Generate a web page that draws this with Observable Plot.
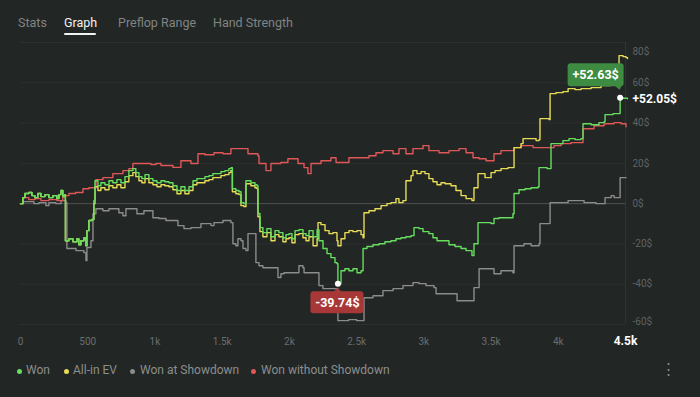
<!DOCTYPE html>
<html>
<head>
<meta charset="utf-8">
<script src="https://cdn.jsdelivr.net/npm/d3@7"></script>
<script src="https://cdn.jsdelivr.net/npm/@observablehq/plot@0.6"></script>
<style>
html,body{margin:0;padding:0;background:#222625;width:700px;height:397px;overflow:hidden;font-family:Roboto,"Open Sans",sans-serif;}
#tabs{position:relative;height:40px;}
.tab{position:absolute;top:15px;font-size:12.5px;color:#808483;white-space:nowrap;line-height:15px;}
.tab.active{color:#f2f2f2;}
#underline{position:absolute;left:64px;top:33px;width:32px;height:2px;background:#f2f2f2;border-radius:1px;}
#chart{height:315px;}
#chart svg{display:block;}
#legend{position:relative;height:42px;}
.lg{position:absolute;top:8px;font-size:12px;line-height:15px;color:#8b8f8e;white-space:nowrap;}
.dot{position:absolute;top:13.5px;width:5px;height:5px;border-radius:50%;}
#kebab{position:absolute;left:661px;top:5px;font-size:15px;color:#8b8f8e;}
</style>
</head>
<body>
<div id="tabs">
  <div class="tab" style="left:18px">Stats</div>
  <div class="tab active" style="left:64px">Graph</div>
  <div class="tab" style="left:118px">Preflop Range</div>
  <div class="tab" style="left:213px">Hand Strength</div>
  <div id="underline"></div>
</div>
<div id="chart"></div>
<div id="legend"></div>
<script>
// ---- data: [hand number, cumulative $] ----
const seriesNames = ["Won", "All-in EV", "Won at Showdown", "Won without Showdown"];
const seriesColors = ["#66df5f", "#e6dc55", "#8c8c8c", "#e05757"];

const won = [[0,0],[18,3.0],[33,5.0],[62,5.5],[85,4.0],[107,3.0],[129,5.0],[152,3.5],[182,4.5],[211,3.0],[241,4.0],[271,2.5],[286,4.5],[301,6.5],[315,3.5],[330,4.5],[334,-18.4],[360,-17.4],[390,-18.9],[420,-17.4],[434,-20.4],[449,-18.4],[472,-16.9],[487,-20.9],[494,-13.4],[509,-8.4],[531,-7.9],[546,1.5],[554,11.4],[576,8.9],[598,10.4],[628,9.4],[658,11.4],[687,10.4],[717,11.9],[747,10.4],[777,13.4],[806,16.4],[836,17.4],[858,15.4],[881,13.4],[903,12.4],[926,14.4],[955,12.4],[985,11.4],[1015,10.4],[1045,11.4],[1074,10.9],[1104,10.4],[1134,8.9],[1164,6.5],[1193,8.4],[1223,6.5],[1253,8.4],[1283,11.4],[1312,12.4],[1342,12.4],[1372,13.4],[1402,13.9],[1431,14.9],[1461,14.9],[1491,15.9],[1521,16.4],[1550,17.4],[1565,17.9],[1576,7.4],[1602,6.5],[1625,5.9],[1640,0.5],[1662,0],[1677,11.4],[1714,10.4],[1744,9.4],[1759,8.9],[1766,-4.9],[1781,-11.9],[1803,-14.4],[1833,-12.4],[1863,-16.4],[1893,-13.4],[1922,-14.4],[1952,-16.9],[1975,-15.4],[1997,-14.9],[2019,-17.4],[2042,-13.4],[2071,-12.9],[2101,-14.9],[2124,-15.9],[2146,-13.4],[2176,-16.4],[2206,-12.9],[2220,-18.4],[2250,-22.3],[2280,-24.8],[2309,-26.8],[2339,-29.3],[2354,-29.8],[2361,-39.74],[2384,-33.3],[2413,-32.3],[2443,-33.3],[2473,-32.3],[2503,-34.3],[2533,-33.3],[2548,-22.3],[2577,-21.3],[2622,-20.4],[2667,-19.9],[2711,-18.9],[2756,-18.4],[2793,-17.4],[2830,-16.9],[2867,-16.4],[2905,-15.9],[2927,-11.9],[2964,-12.4],[2994,-13.9],[3038,-14.9],[3068,-16.9],[3098,-18.4],[3143,-18.4],[3187,-20.4],[3232,-21.3],[3277,-22.3],[3314,-23.3],[3358,-25.8],[3373,-19.9],[3403,-9.4],[3455,-9.4],[3500,-9.9],[3522,-7.4],[3559,-7.0],[3626,-7.0],[3663,-5.0],[3671,5.0],[3708,6.9],[3753,7.4],[3798,7.9],[3850,8.4],[3857,17.9],[3917,17.4],[3939,17.4],[3946,29.8],[3991,29.8],[4035,31.3],[4080,32.3],[4125,31.8],[4169,32.3],[4184,39.7],[4244,39.2],[4303,40.2],[4341,40.7],[4348,44.2],[4408,44.7],[4452,44.7],[4460,52.63],[4482,52.3],[4504,52.3],[4515,52.05]];

const allInEv = [[0,0],[18,3.0],[33,5.0],[62,5.5],[85,4.0],[107,3.0],[129,5.0],[152,3.5],[182,4.5],[211,3.0],[241,4.0],[271,2.5],[286,4.5],[301,6.5],[315,3.5],[330,4.5],[334,-18.4],[360,-17.4],[390,-18.9],[420,-17.4],[434,-20.4],[449,-18.4],[472,-16.9],[487,-20.9],[494,-13.4],[509,-8.4],[531,-7.9],[546,0],[554,8.4],[576,6.5],[598,7.9],[628,6.9],[658,8.9],[687,7.9],[717,9.4],[747,7.9],[777,10.9],[806,13.9],[836,15.4],[858,13.4],[881,11.4],[903,10.4],[926,12.4],[955,10.4],[985,9.4],[1015,8.4],[1045,9.4],[1074,8.9],[1104,8.4],[1134,6.9],[1164,4.9],[1193,6.5],[1223,4.9],[1253,6.5],[1283,9.4],[1312,10.4],[1342,10.4],[1372,11.4],[1402,11.9],[1431,12.9],[1461,12.9],[1491,13.9],[1521,14.4],[1550,15.4],[1565,16.4],[1576,5.9],[1602,4.9],[1625,4.5],[1640,-1.0],[1662,-1.5],[1677,9.9],[1714,8.9],[1744,7.9],[1759,7.4],[1766,-6.5],[1781,-13.9],[1803,-16.4],[1833,-14.4],[1863,-18.4],[1893,-15.4],[1922,-16.4],[1952,-18.9],[1975,-17.4],[1997,-16.9],[2019,-19.4],[2042,-15.4],[2071,-14.9],[2101,-16.9],[2124,-18.4],[2146,-16.4],[2176,-20.9],[2206,-17.4],[2213,-9.4],[2235,-10.4],[2265,-13.4],[2295,-14.9],[2324,-14.4],[2354,-18.4],[2361,-20.9],[2384,-17.4],[2413,-14.4],[2443,-13.4],[2473,-13.9],[2503,-13.4],[2533,-15.4],[2548,-16.9],[2555,-4.5],[2592,-3.5],[2637,-2.5],[2682,-1.0],[2726,0],[2756,0.5],[2793,2.5],[2815,0.5],[2845,1.5],[2867,11.4],[2905,13.9],[2919,16.4],[2949,14.9],[2979,15.9],[3009,14.9],[3038,12.4],[3068,10.9],[3098,9.4],[3128,10.4],[3158,9.9],[3202,8.9],[3239,6.5],[3277,4.0],[3314,2.5],[3358,1.5],[3373,7.9],[3403,14.9],[3425,14.9],[3455,12.9],[3500,15.4],[3530,16.4],[3574,17.4],[3626,17.9],[3663,17.9],[3671,27.8],[3723,29.8],[3738,32.3],[3798,32.3],[3835,31.3],[3857,31.8],[3864,42.2],[3932,41.7],[3939,54.6],[3983,55.1],[4035,55.6],[4073,57.1],[4125,56.6],[4169,57.1],[4244,57.6],[4318,58.6],[4393,59.1],[4445,59.1],[4452,73.5],[4482,73.0],[4504,72.5],[4515,72.0]];

const showdown = [[0,0],[18,1.0],[62,1.0],[100,0],[137,0.5],[189,-1.0],[211,0.5],[263,0],[301,1.5],[338,0.5],[345,-22.3],[413,-23.3],[472,-24.3],[487,-28.3],[494,-21.8],[524,-18.4],[539,-5.0],[561,-2.5],[613,-3.5],[658,-2.5],[710,-2.5],[732,-4.5],[762,-6.0],[784,-2.5],[858,-2.5],[866,-5.0],[911,-5.0],[918,-3.5],[970,-3.5],[985,-7.0],[1030,-7.4],[1082,-8.4],[1119,-8.4],[1171,-10.9],[1216,-12.4],[1268,-11.9],[1320,-11.9],[1342,-9.9],[1417,-10.9],[1439,-9.4],[1491,-9.4],[1506,-8.4],[1565,-9.4],[1580,-19.9],[1602,-20.9],[1617,-17.4],[1640,-18.4],[1655,-22.3],[1677,-23.3],[1692,-14.9],[1736,-14.9],[1751,-29.3],[1774,-30.8],[1803,-31.8],[1885,-31.8],[1915,-36.7],[1937,-34.8],[1960,-34.3],[2064,-34.3],[2071,-30.8],[2101,-31.8],[2109,-34.3],[2213,-34.3],[2220,-40.7],[2250,-42.2],[2354,-42.2],[2361,-58.1],[2440,-57.6],[2500,-58.1],[2555,-46.7],[2622,-45.7],[2696,-43.2],[2771,-42.2],[2845,-40.7],[2919,-39.2],[2964,-39.7],[3016,-40.7],[3076,-41.7],[3091,-44.7],[3239,-44.7],[3247,-48.2],[3366,-48.2],[3373,-41.7],[3403,-41.7],[3411,-32.3],[3455,-32.3],[3522,-34.8],[3574,-33.3],[3663,-34.3],[3671,-20.9],[3745,-19.9],[3798,-20.9],[3857,-19.9],[3864,-9.9],[3932,-9.9],[3939,0.5],[4073,1.5],[4169,1.5],[4192,0.5],[4281,0],[4341,0],[4348,3.0],[4393,4.0],[4415,3.0],[4452,3.0],[4460,12.9],[4504,12.9]];

const noShowdown = [[0,0],[18,3.0],[62,2.0],[107,2.5],[152,1.5],[211,2.0],[271,1.5],[315,4.0],[360,5.0],[410,5.5],[465,7.4],[509,7.9],[546,7.9],[561,11.9],[613,12.9],[687,14.9],[762,16.4],[806,17.4],[836,19.9],[911,19.9],[970,19.4],[1007,19.9],[1045,18.9],[1089,18.9],[1134,18.0],[1193,21.3],[1268,19.9],[1320,24.8],[1372,24.3],[1439,25.3],[1506,24.8],[1565,27.3],[1617,27.3],[1692,24.8],[1766,23.8],[1774,19.9],[1826,16.4],[1863,19.9],[1937,20.4],[1989,22.3],[2064,19.9],[2109,17.9],[2138,14.9],[2161,19.9],[2235,21.3],[2309,22.8],[2347,20.4],[2398,20.4],[2443,22.8],[2518,22.8],[2592,23.8],[2644,25.3],[2696,26.3],[2771,24.8],[2815,27.3],[2867,24.8],[2919,27.3],[2994,28.8],[3038,26.3],[3113,25.3],[3187,26.3],[3262,27.3],[3314,25.3],[3366,22.8],[3411,22.3],[3463,21.3],[3522,24.8],[3574,26.3],[3671,27.8],[3723,28.8],[3768,28.8],[3813,27.8],[3894,27.8],[3968,28.8],[4021,29.8],[4095,30.3],[4169,30.3],[4184,37.2],[4266,38.7],[4341,39.7],[4415,40.2],[4467,39.7],[4504,38.2]];

const xTicks = [0, 500, 1000, 1500, 2000, 2500, 3000, 3500, 4000, 4500];
const xTickLabels = ["0", "500", "1k", "1.5k", "2k", "2.5k", "3k", "3.5k", "4k", "4.5k"];
const yTicks = [80, 60, 40, 20, 0, -20, -40, -60];

// ---- helpers ----
const toRows = arr => arr.map(([h, v]) => ({h, v}));
const fmtX = d => xTickLabels[xTicks.indexOf(d)];
const fmtY = d => `${d}$`;
const fmtSigned = v => (v >= 0 ? "+" : "-") + Math.abs(v).toFixed(2) + "$";
const lastX = xTicks[xTicks.length - 1];
const topY = yTicks[0], botY = yTicks[yTicks.length - 1];
const midY = yTicks.slice(1, -1);
const maxPt = won.reduce((a, b) => (b[1] > a[1] ? b : a));
const minPt = won.reduce((a, b) => (b[1] < a[1] ? b : a));
const endPt = won[won.length - 1];
const lineOpts = (c) => ({x: "h", y: "v", stroke: c, strokeWidth: 1.4, curve: "step-after"});

const plot = Plot.plot({
  width: 700,
  height: 315,
  marginTop: 2,
  marginBottom: 31,
  marginLeft: 20,
  marginRight: 75,
  x: {domain: [0, lastX], label: null},
  y: {domain: [botY, topY], label: null},
  style: {background: "transparent", color: "#5f6362", fontFamily: "Roboto, sans-serif", fontSize: "10px", overflow: "visible"},
  marks: [
    Plot.ruleY(yTicks, {stroke: "#2c302f"}),
    Plot.ruleX([lastX], {stroke: "#2f3332"}),
    Plot.ruleY([0], {stroke: "#4f5352"}),
    Plot.axisX(xTicks.slice(0, -1), {tickSize: 0, tickPadding: 13, tickFormat: fmtX, fill: "#6a6e6d", label: null}),
    Plot.text([lastX], {x: d => d, frameAnchor: "bottom", dy: 17, text: fmtX, fill: "#ffffff", fontWeight: "bold", fontSize: 12, lineAnchor: "middle"}),
    Plot.axisY(midY, {anchor: "right", tickSize: 0, tickPadding: 7, tickFormat: fmtY, fill: "#5f6362", label: null}),
    Plot.text([topY], {y: d => d, frameAnchor: "right", textAnchor: "start", dx: 7, dy: 9, text: fmtY, fill: "#5f6362"}),
    Plot.text([botY], {y: d => d, frameAnchor: "right", textAnchor: "start", dx: 7, dy: -3, text: fmtY, fill: "#5f6362"}),
    Plot.line(toRows(showdown), lineOpts(seriesColors[2])),
    Plot.line(toRows(noShowdown), lineOpts(seriesColors[3])),
    Plot.line(toRows(allInEv), lineOpts(seriesColors[1])),
    Plot.line(toRows(won), lineOpts(seriesColors[0])),
    Plot.dot([maxPt, minPt], {x: d => d[0], y: d => d[1], r: 3, fill: "#ffffff", stroke: "none"}),
    Plot.text([endPt], {y: d => d[1], frameAnchor: "right", textAnchor: "start", dx: 7, text: d => fmtSigned(d[1]), fill: "#ffffff", fontWeight: "bold", fontSize: 12})
  ]
});
document.getElementById("chart").appendChild(plot);

// ---- max / min callouts, positioned with the plot's own scales ----
const sx = plot.scale("x"), sy = plot.scale("y");
const svg = d3.select(plot);
const ann = svg.append("g").attr("font-family", "Roboto, sans-serif").attr("font-weight", "bold").attr("font-size", 12.5);

{
  const px = sx.apply(maxPt[0]), py = sy.apply(maxPt[1]);
  const fill = "#3d8c42";
  ann.append("rect").attr("x", px - 52).attr("y", py - 34).attr("width", 56).attr("height", 23).attr("rx", 3).attr("fill", fill);
  ann.append("path").attr("d", `M${px - 5},${py - 11.5}L${px + 2},${py - 11.5}L${px},${py - 7.5}Z`).attr("fill", fill);
  ann.append("text").attr("x", px - 24).attr("y", py - 22.5).attr("text-anchor", "middle").attr("dominant-baseline", "central").attr("fill", "#ffffff").text(fmtSigned(maxPt[1]));
}
{
  const px = sx.apply(minPt[0]), py = sy.apply(minPt[1]);
  const fill = "#a83838";
  ann.append("rect").attr("x", px - 27).attr("y", py + 8).attr("width", 53).attr("height", 22).attr("rx", 3).attr("fill", fill);
  ann.append("path").attr("d", `M${px - 4},${py + 8.5}L${px + 4},${py + 8.5}L${px},${py + 4.5}Z`).attr("fill", fill);
  ann.append("text").attr("x", px).attr("y", py + 19).attr("text-anchor", "middle").attr("dominant-baseline", "central").attr("fill", "#ffffff").text(fmtSigned(minPt[1]));
}

// ---- legend ----
const legend = document.getElementById("legend");
const dotX = [17, 64, 130, 251];
const textX = [26, 73, 140, 261];
seriesNames.forEach((name, i) => {
  const d = document.createElement("div");
  d.className = "dot";
  d.style.left = dotX[i] + "px";
  d.style.background = seriesColors[i];
  legend.appendChild(d);
  const t = document.createElement("div");
  t.className = "lg";
  t.style.left = textX[i] + "px";
  t.textContent = name;
  legend.appendChild(t);
});
const k = document.createElement("div");
k.id = "kebab";
k.textContent = "⋮";
legend.appendChild(k);
</script>
</body>
</html>
